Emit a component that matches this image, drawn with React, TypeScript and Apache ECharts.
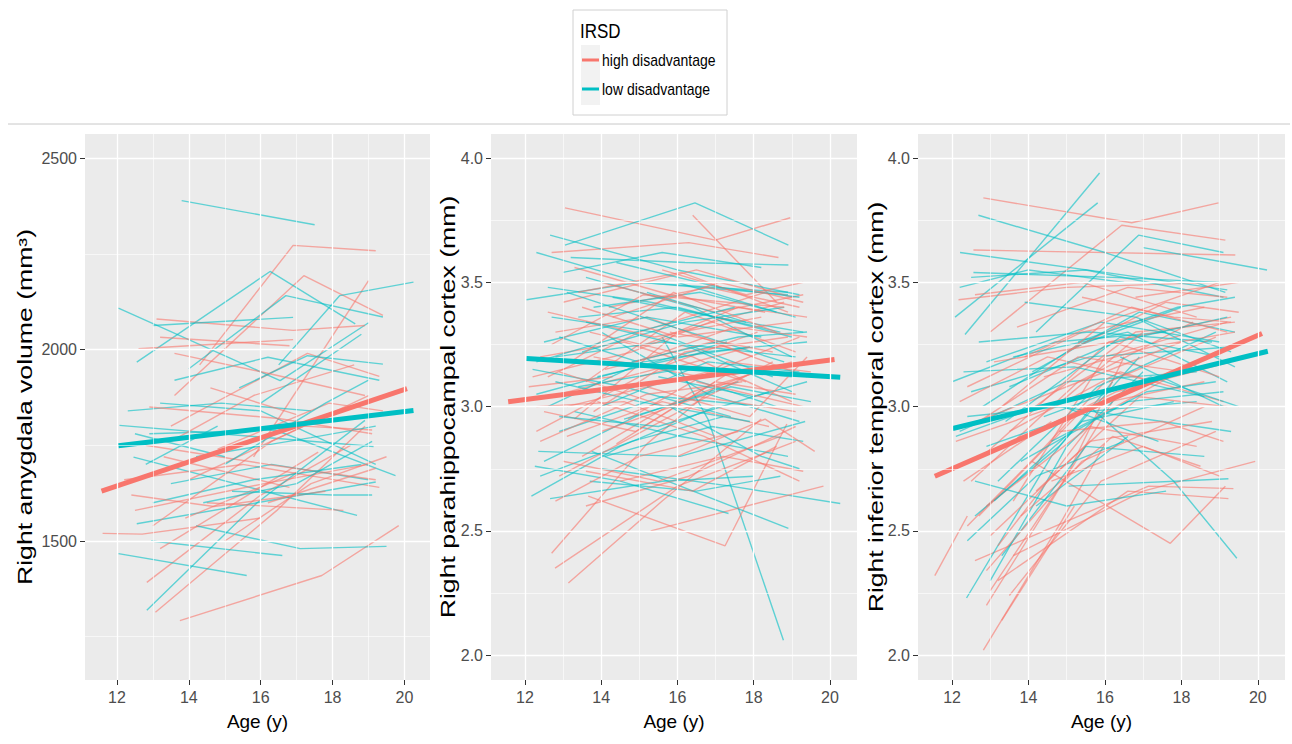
import React, { useEffect, useRef } from "react";
import * as echarts from "echarts";

// ---------- axis ticks ----------
const ageTicks = [12, 14, 16, 18, 20];
const ageMinor = [13, 15, 17, 19];
const amygTicks = [1500, 2000, 2500];
const amygMinor = [1250, 1750, 2250];
const cortexTicks = [2.0, 2.5, 3.0, 3.5, 4.0];
const cortexMinor = [2.25, 2.75, 3.25, 3.75];

const legendTitle = "IRSD";
const groupNames = ["high disadvantage", "low disadvantage"];
const panelTitles = [
  "Right amygdala volume (mm\u00B3)",
  "Right parahippocampal cortex (mm)",
  "Right inferior temporal cortex (mm)",
];
const xTitle = "Age (y)";

// ---------- subjects: [age1, value1, age2, value2, (age3, value3)] ----------
const amygHigh: number[][] = [
  [14.3, 1960, 16.9, 2272, 19.2, 2258],
  [13.6, 1880, 17.2, 2193, 19.4, 2089],
  [15.8, 1720, 19.0, 2180],
  [13.1, 2080, 16.9, 2050, 18.9, 2063],
  [13.2, 2032, 16.8, 2010],
  [12.6, 2002, 16.9, 2026],
  [13.5, 1800, 17.3, 1990, 19.3, 1930],
  [11.6, 1520, 12.7, 1518, 16.0, 1560],
  [13.75, 1292, 17.7, 1410, 19.84, 1540],
  [13.07, 1314, 16.45, 1580, 18.9, 1800],
  [12.83, 1392, 16.0, 1620, 18.5, 1750],
  [13.2, 1480, 17.6, 1732],
  [12.2, 1660, 15.5, 1700, 19.3, 1640],
  [12.5, 1580, 16.1, 1650, 19.0, 1700],
  [13.3, 1720, 16.8, 1640],
  [14.0, 1660, 17.2, 1800, 19.1, 1790],
  [12.8, 1750, 16.2, 1700, 19.2, 1660],
  [13.9, 1560, 17.0, 1680],
  [14.5, 1600, 18.3, 1580],
  [12.4, 1620, 14.7, 1590, 17.8, 1630],
  [15.0, 1500, 17.4, 1650, 19.5, 1720],
  [13.5, 1760, 15.8, 1880, 18.6, 1960],
  [14.8, 1740, 17.9, 1860, 19.4, 1840],
  [12.9, 1850, 16.5, 1820, 19.1, 1780],
  [16.2, 1600, 19.2, 1690],
  [13.0, 1540, 16.3, 1760, 19.0, 1880],
  [14.6, 1900, 17.0, 1830],
  [13.6, 1990, 16.1, 1940, 18.9, 1880],
];
const amygLow: number[][] = [
  [13.8, 2389, 17.5, 2326],
  [12.55, 1967, 16.26, 2204, 18.63, 2067],
  [12.04, 2108, 16.54, 1919, 19.0, 2070],
  [14.0, 1950, 16.7, 2141, 19.4, 2085],
  [16.5, 1960, 18.2, 2141, 20.25, 2176],
  [13.0, 2063, 16.9, 2084],
  [15.4, 1900, 17.3, 1984, 19.4, 1962],
  [12.07, 1802, 19.14, 1747],
  [12.46, 1719, 18.68, 1567],
  [12.95, 1500, 16.6, 1462],
  [14.2, 1540, 17.1, 1480, 19.5, 1486],
  [12.04, 1467, 15.61, 1410],
  [12.83, 1319, 15.9, 1600, 18.9, 1815],
  [12.55, 1545, 19.2, 1654],
  [13.2, 1860, 16.0, 1840, 19.2, 1700],
  [13.5, 1650, 16.3, 1700, 19.0, 1660],
  [12.9, 1780, 16.4, 1790, 19.75, 1671],
  [14.2, 1720, 17.4, 1770, 19.2, 1800],
  [13.0, 1600, 15.8, 1660, 18.8, 1700],
  [15.2, 1630, 18.0, 1620, 19.1, 1620],
  [12.3, 1840, 14.9, 1860, 17.4, 1840],
  [16.0, 1860, 18.8, 2040],
  [13.6, 1920, 16.2, 1980, 19.3, 1920],
  [12.5, 1780, 15.0, 1720],
  [14.4, 1600, 17.0, 1650, 19.1, 1760],
  [15.0, 1700, 17.8, 1860, 19.0, 1920],
  [12.8, 1700, 14.8, 1800],
];
const paraHigh: number[][] = [
  [13.05, 3.8, 16.99, 3.67, 18.96, 3.76],
  [16.4, 3.77, 18.6, 3.42],
  [13.66, 2.64, 17.25, 2.44, 18.87, 2.93],
  [12.7, 2.41, 15.2, 2.85, 17.0, 3.08],
  [12.79, 2.35, 16.0, 2.68, 19.1, 2.86],
  [13.14, 2.29, 15.6, 2.62, 18.2, 2.95],
  [15.3, 2.5, 19.83, 2.68],
  [12.7, 3.62, 16.3, 3.66, 18.65, 3.6],
  [12.6, 3.12, 15.0, 3.3, 18.3, 3.46],
  [13.0, 3.42, 16.5, 3.55, 19.0, 3.44],
  [13.6, 3.1, 16.2, 3.38, 19.1, 3.22],
  [12.4, 3.2, 14.6, 3.26, 17.8, 3.1],
  [13.3, 2.95, 16.0, 3.3, 18.8, 3.42],
  [14.2, 3.4, 16.8, 3.48, 19.2, 3.4],
  [12.9, 3.05, 15.4, 3.15, 18.1, 3.3],
  [13.5, 2.8, 16.4, 3.06, 19.0, 3.18],
  [12.2, 3.12, 14.8, 3.22, 17.2, 3.36],
  [14.0, 3.5, 17.0, 3.38, 19.3, 3.45],
  [13.1, 2.88, 15.6, 3.02, 18.4, 2.92],
  [12.8, 3.3, 15.2, 3.36, 18.0, 3.2],
  [15.0, 3.24, 17.6, 3.4, 19.4, 3.36],
  [13.8, 3.2, 16.6, 3.12, 19.2, 3.28],
  [12.5, 2.98, 14.9, 2.9, 17.5, 3.15],
  [13.4, 3.46, 16.1, 3.54, 18.9, 3.38],
  [14.4, 2.85, 17.0, 3.1, 19.1, 3.05],
  [12.3, 2.9, 15.0, 3.12, 17.9, 3.24],
  [13.9, 3.02, 16.7, 2.88, 19.2, 2.7],
  [15.6, 3.55, 17.8, 3.45, 19.3, 3.5],
  [12.9, 2.72, 15.8, 2.96, 18.5, 3.18],
  [13.6, 2.6, 16.3, 2.72, 19.1, 2.92],
  [14.1, 3.15, 16.9, 3.26, 19.4, 3.12],
  [12.6, 3.38, 15.4, 3.28, 18.2, 3.36],
  [13.2, 3.18, 15.9, 3.46, 18.6, 3.3],
  [14.7, 2.95, 17.3, 3.18, 19.5, 3.14],
  [12.1, 3.08, 14.3, 3.12],
  [13.0, 2.78, 15.5, 2.7, 18.7, 2.88],
  [16.0, 2.8, 18.3, 2.95, 19.6, 2.82],
  [13.7, 3.3, 16.4, 3.2, 19.0, 3.02],
  [12.4, 2.86, 15.2, 3.05, 17.7, 3.1],
  [14.3, 3.36, 17.1, 3.5, 19.3, 3.42],
  [13.3, 3.56, 15.8, 3.45, 18.3, 3.38],
  [12.7, 3.25, 15.1, 3.45, 18.8, 3.4],
  [15.2, 3.08, 17.9, 2.96, 19.4, 3.2],
  [13.8, 2.98, 16.2, 3.22, 18.9, 3.28],
  [12.8, 2.62, 15.0, 2.8, 17.6, 2.9],
  [14.5, 2.7, 17.2, 2.8, 19.3, 2.74],
  [13.1, 3.0, 16.8, 3.14],
  [15.8, 3.3, 18.5, 3.22],
  [12.9, 3.14, 15.7, 3.0, 18.4, 3.16],
  [13.5, 3.4, 16.0, 3.28, 19.0, 3.34],
  [14.9, 3.18, 17.5, 3.32, 19.4, 3.28],
  [12.3, 3.0, 14.6, 3.02, 17.0, 2.88],
  [14.0, 2.9, 16.6, 3.04, 19.1, 2.98],
  [16.5, 3.1, 19.3, 3.0],
  [13.6, 2.74, 16.4, 2.66, 18.6, 2.84],
];
const paraLow: number[][] = [
  [13.05, 3.65, 16.46, 3.82, 18.91, 3.65],
  [15.6, 3.28, 16.8, 2.95, 18.78, 2.06],
  [13.75, 2.82, 18.91, 2.51],
  [14.0, 2.75, 17.4, 2.68, 20.27, 2.61],
  [12.17, 2.64, 14.5, 2.84, 17.0, 3.0],
  [12.04, 3.43, 15.0, 3.5, 18.9, 3.46],
  [12.3, 3.62, 15.0, 3.5, 18.9, 3.45],
  [12.66, 3.69, 16.0, 3.55, 19.2, 3.45],
  [13.2, 3.6, 16.2, 3.58, 18.91, 3.57],
  [12.6, 3.48, 15.3, 3.42, 18.7, 3.3],
  [13.4, 3.36, 16.0, 3.4, 19.0, 3.28],
  [12.8, 3.2, 15.6, 3.26, 19.1, 3.2],
  [14.0, 3.3, 16.8, 3.05, 19.2, 2.94],
  [12.3, 3.05, 14.7, 3.15, 17.3, 3.26],
  [13.6, 3.52, 16.4, 3.4, 19.0, 3.2],
  [12.5, 2.78, 14.9, 2.96, 17.6, 3.1],
  [13.9, 3.12, 16.7, 3.22, 19.4, 3.26],
  [12.9, 2.9, 15.6, 3.04, 18.3, 3.0],
  [14.3, 3.44, 17.0, 3.36, 19.3, 3.3],
  [12.2, 3.15, 14.6, 3.08, 17.4, 2.96],
  [13.3, 2.98, 16.1, 2.88, 18.9, 2.8],
  [15.2, 3.46, 17.8, 3.34],
  [12.7, 3.36, 15.4, 3.3, 18.5, 3.12],
  [13.5, 3.22, 16.2, 3.34, 18.8, 3.4],
  [14.6, 2.95, 17.4, 3.08, 19.5, 3.02],
  [12.4, 2.72, 14.8, 2.86, 17.2, 2.96],
  [13.8, 3.4, 16.6, 3.46, 19.1, 3.36],
  [12.9, 3.28, 15.8, 3.14, 18.6, 3.0],
  [14.1, 2.8, 16.9, 2.92, 19.3, 2.86],
  [12.6, 3.0, 15.1, 3.18, 17.9, 3.24],
  [12.35, 2.82, 16.07, 2.8, 19.35, 2.94],
  [12.26, 2.76, 14.5, 2.7, 17.34, 2.57],
  [12.66, 2.63, 15.6, 2.7, 18.0, 2.72],
  [15.8, 3.0, 18.2, 2.8, 19.2, 2.75],
  [13.4, 3.08, 16.4, 3.16, 19.0, 3.12],
  [14.8, 3.18, 17.6, 3.28, 19.4, 3.3],
  [12.8, 3.1, 15.0, 3.02, 17.9, 2.94],
  [13.7, 2.7, 16.5, 2.66, 18.7, 2.72],
  [14.4, 3.58, 17.1, 3.48, 19.2, 3.44],
  [12.5, 3.26, 15.2, 3.36, 18.2, 3.28],
  [13.1, 3.46, 15.9, 3.32, 18.8, 3.18],
  [15.5, 3.12, 18.0, 3.04, 19.4, 3.1],
  [12.9, 2.96, 15.5, 2.92, 18.4, 3.06],
  [14.0, 3.0, 16.8, 3.18, 19.2, 3.14],
  [13.6, 3.34, 16.3, 3.24, 19.0, 3.06],
  [12.3, 3.18, 14.9, 3.3, 17.5, 3.4],
  [16.0, 3.5, 18.6, 3.38],
  [13.0, 3.54, 15.6, 3.62, 18.2, 3.56],
];
const tempHigh: number[][] = [
  [12.82, 3.84, 16.7, 3.74, 18.97, 3.82],
  [13.0, 3.3, 16.44, 3.73, 19.15, 3.67],
  [12.56, 3.63, 19.41, 3.61],
  [12.17, 3.43, 15.0, 3.48, 18.9, 3.5],
  [11.55, 2.32, 12.4, 2.56],
  [12.82, 2.02, 14.87, 2.54, 16.0, 2.85],
  [14.09, 2.78, 17.71, 2.45, 19.15, 2.68],
  [13.6, 2.4, 17.0, 2.66, 19.93, 2.78],
  [13.2, 2.3, 16.6, 2.66, 19.23, 2.63],
  [12.6, 2.38, 17.14, 2.68, 19.36, 2.67],
  [12.4, 2.52, 14.2, 2.8, 16.0, 3.1],
  [12.9, 2.2, 14.6, 2.62, 16.2, 3.02],
  [13.0, 2.26, 15.0, 2.72, 16.5, 3.2],
  [13.3, 2.14, 15.2, 2.6],
  [12.7, 2.56, 15.5, 3.0, 18.6, 3.1],
  [13.2, 2.44, 15.8, 2.96, 18.9, 3.22],
  [12.5, 2.7, 15.3, 3.1, 18.3, 3.34],
  [13.6, 2.62, 16.0, 3.2, 19.2, 3.34],
  [12.3, 2.92, 15.0, 3.08, 18.0, 3.26],
  [12.8, 2.8, 16.1, 3.26, 19.3, 3.36],
  [13.5, 2.9, 16.4, 3.14, 19.1, 3.02],
  [14.0, 2.98, 16.8, 3.3, 19.4, 3.34],
  [12.4, 3.08, 15.4, 3.3, 18.6, 3.4],
  [13.1, 3.18, 16.2, 3.26, 19.0, 3.12],
  [12.2, 3.02, 14.5, 3.2, 17.3, 3.1],
  [14.2, 2.66, 16.9, 3.04, 19.2, 3.0],
  [12.9, 2.6, 15.6, 2.92, 18.4, 2.84],
  [13.4, 2.84, 16.3, 3.06, 19.3, 3.18],
  [15.0, 3.22, 17.6, 3.42, 19.5, 3.38],
  [13.7, 3.32, 16.6, 3.48, 19.2, 3.44],
  [12.6, 3.45, 15.4, 3.5, 18.4, 3.36],
  [14.4, 3.12, 17.2, 3.24, 19.4, 3.3],
  [12.3, 2.7, 14.6, 2.94],
  [13.0, 2.48, 15.6, 2.86, 18.8, 2.94],
  [14.8, 2.9, 17.5, 2.94, 19.1, 2.86],
  [13.8, 2.56, 16.2, 2.88, 18.5, 2.76],
  [16.1, 3.1, 18.9, 3.28],
  [12.1, 2.86, 14.7, 3.0, 17.0, 3.3],
  [13.3, 3.0, 16.0, 3.34, 19.0, 3.5],
  [15.4, 3.44, 17.8, 3.36, 19.3, 3.34],
  [12.7, 2.94, 15.3, 3.2, 18.1, 3.14],
  [13.9, 3.2, 16.7, 3.4, 19.2, 3.3],
  [14.6, 2.7, 17.0, 2.84, 19.0, 2.72],
  [12.9, 2.34, 15.4, 2.78, 18.6, 3.0],
  [13.5, 2.24, 15.9, 2.7, 18.9, 2.9],
  [16.8, 3.44, 19.5, 3.5],
];
const tempLow: number[][] = [
  [12.34, 3.29, 15.86, 3.94],
  [12.08, 3.36, 15.81, 3.82],
  [12.69, 3.77, 16.0, 3.62, 19.15, 3.46],
  [14.2, 3.3, 16.88, 3.69, 19.1, 3.62],
  [17.0, 3.64, 20.24, 3.55],
  [12.21, 3.62, 16.0, 3.54, 19.2, 3.47],
  [12.56, 3.54, 16.2, 3.52, 19.0, 3.5],
  [12.5, 3.52, 15.5, 3.55, 19.1, 3.44],
  [15.6, 3.0, 17.8, 2.7, 19.45, 2.39],
  [12.38, 2.23, 14.6, 2.8, 16.2, 3.1],
  [15.05, 2.68, 19.23, 2.71],
  [12.4, 2.46, 14.2, 2.72, 16.5, 2.86],
  [12.6, 2.56, 14.8, 2.84, 16.9, 3.2],
  [13.0, 2.3, 15.0, 2.84, 17.0, 3.14],
  [12.2, 2.9, 15.0, 3.1, 18.4, 3.14],
  [12.0, 3.1, 14.7, 3.26, 17.6, 3.3],
  [13.2, 2.7, 15.8, 3.08, 18.9, 3.3],
  [12.5, 3.06, 15.6, 3.2, 19.3, 3.24],
  [12.8, 3.0, 15.2, 3.24, 18.0, 3.4],
  [13.4, 2.94, 16.4, 3.28, 19.0, 3.2],
  [14.1, 3.14, 16.9, 3.38, 19.4, 3.3],
  [12.3, 3.14, 15.2, 3.16, 18.6, 3.04],
  [13.6, 3.2, 16.6, 3.3, 19.2, 3.1],
  [12.9, 2.84, 15.5, 2.98, 18.4, 3.02],
  [14.4, 2.96, 17.2, 3.12, 19.5, 3.0],
  [12.7, 3.26, 15.6, 3.3, 18.8, 3.26],
  [13.1, 2.62, 15.4, 2.94, 17.8, 3.02],
  [14.8, 3.0, 17.5, 2.94, 19.3, 2.9],
  [12.4, 2.96, 14.9, 3.0, 17.4, 2.86],
  [13.8, 2.78, 16.6, 3.02, 19.1, 3.06],
  [12.1, 2.88, 13.9, 2.98],
  [15.3, 3.26, 17.9, 3.4, 19.4, 3.44],
  [13.5, 3.08, 16.3, 3.26, 19.2, 3.36],
  [14.6, 2.86, 17.1, 3.06, 18.9, 3.1],
  [12.6, 2.7, 15.0, 2.6, 17.6, 2.66],
  [13.3, 2.4, 15.5, 2.84, 18.6, 2.8],
  [16.4, 3.2, 19.1, 3.0],
  [12.9, 3.18, 15.9, 3.34, 19.0, 3.26],
  [13.9, 3.42, 16.8, 3.36, 19.3, 3.22],
  [14.2, 2.6, 16.6, 2.88],
  [12.2, 3.48, 14.0, 3.55, 16.5, 3.5],
  [16.9, 3.35, 19.4, 3.16],
];

// ---------- group fit lines ----------
const amygFitHigh = [11.57, 1630, 20.07, 1898];
const amygFitLow = [12.04, 1749, 20.25, 1841];
const paraFitHigh = [11.56, 3.02, 20.12, 3.19];
const paraFitLow = [12.04, 3.194, 20.27, 3.118];
const tempFitHigh = [11.55, 2.72, 20.11, 3.294];
const tempFitLow = [12.02, 2.912, 20.26, 3.223];

const RED = "#F8766D";
const CYAN = "#00BFC4";
const SANS = "'Liberation Sans', Arial, Helvetica, sans-serif";

const toPairs = (r: number[]) => {
  const out: number[][] = [];
  for (let i = 0; i + 1 < r.length; i += 2) out.push([r[i], r[i + 1]]);
  return out;
};

const GRIDS = [
  { left: 85, top: 134, width: 345, height: 546 },
  { left: 491, top: 134, width: 366, height: 546 },
  { left: 918, top: 134, width: 367, height: 546 },
];

const PANELS = [
  { high: amygHigh, low: amygLow, fitH: amygFitHigh, fitL: amygFitLow, min: 1137, max: 2563, ticks: amygTicks, minor: amygMinor, fmt: (v: number) => String(v) },
  { high: paraHigh, low: paraLow, fitH: paraFitHigh, fitL: paraFitLow, min: 1.9, max: 4.097, ticks: cortexTicks, minor: cortexMinor, fmt: (v: number) => v.toFixed(1) },
  { high: tempHigh, low: tempLow, fitH: tempFitHigh, fitL: tempFitLow, min: 1.9, max: 4.097, ticks: cortexTicks, minor: cortexMinor, fmt: (v: number) => v.toFixed(1) },
];

function buildOption() {
  const grid: any[] = [];
  const xAxis: any[] = [];
  const yAxis: any[] = [];
  const series: any[] = [];
  PANELS.forEach((p, i) => {
    grid.push({ ...GRIDS[i], show: true, backgroundColor: "#EBEBEB", borderWidth: 0 });
    xAxis.push({
      type: "value", gridIndex: i, min: 11.11, max: 20.71,
      axisLine: { show: false },
      axisTick: { show: true, customValues: ageTicks, length: 5, lineStyle: { color: "#333", width: 1 } },
      axisLabel: { customValues: ageTicks, color: "#4D4D4D", fontSize: 16, fontFamily: SANS, margin: 9 },
      splitLine: { show: false },
      name: xTitle, nameLocation: "middle", nameGap: 32,
      nameTextStyle: { color: "#000", fontSize: 19, fontFamily: SANS },
    });
    yAxis.push({
      type: "value", gridIndex: i, min: p.min, max: p.max,
      axisLine: { show: false },
      axisTick: { show: true, customValues: p.ticks, length: 5, lineStyle: { color: "#333", width: 1 } },
      axisLabel: { customValues: p.ticks, formatter: p.fmt, color: "#4D4D4D", fontSize: 16, fontFamily: SANS, margin: 8 },
      splitLine: { show: false },
    });
    const major = { color: "#FFFFFF", width: 1.3, type: "solid", opacity: 1 };
    const minorS = { color: "#FFFFFF", width: 0.6, type: "solid", opacity: 1 };
    series.push({
      type: "line", xAxisIndex: i, yAxisIndex: i, data: [], silent: true, z: 1,
      markLine: {
        silent: true, symbol: ["none", "none"], label: { show: false }, animation: false,
        emphasis: { disabled: true },
        data: [
          ...ageMinor.map((v) => ({ xAxis: v, lineStyle: minorS })),
          ...p.minor.map((v) => ({ yAxis: v, lineStyle: minorS })),
          ...ageTicks.map((v) => ({ xAxis: v, lineStyle: major })),
          ...p.ticks.map((v) => ({ yAxis: v, lineStyle: major })),
        ],
      },
    });
    const n = Math.max(p.high.length, p.low.length);
    const add = (r: number[] | undefined, color: string) => {
      if (!r) return;
      series.push({
        type: "line", xAxisIndex: i, yAxisIndex: i, data: toPairs(r), symbol: "none", showSymbol: false,
        silent: true, z: 2, lineStyle: { color, width: 1.4, opacity: 0.6 },
      });
    };
    for (let k = 0; k < n; k++) {
      add(p.high[k], RED);
      add(p.low[k], CYAN);
    }
    series.push({
      type: "line", xAxisIndex: i, yAxisIndex: i, data: toPairs(p.fitH), symbol: "none", silent: true, z: 3,
      lineStyle: { color: RED, width: 5 },
    });
    series.push({
      type: "line", xAxisIndex: i, yAxisIndex: i, data: toPairs(p.fitL), symbol: "none", silent: true, z: 3,
      lineStyle: { color: CYAN, width: 5 },
    });
  });

  const titleX = [25, 448, 876];
  const graphic: any[] = [
    { type: "line", shape: { x1: 8, y1: 124, x2: 1290, y2: 124 }, style: { stroke: "#C8C8C8", lineWidth: 1 } },
    { type: "rect", shape: { x: 573, y: 10, width: 154, height: 105 }, style: { fill: "#fff", stroke: "#D0D0D0", lineWidth: 1 } },
    { type: "text", x: 580, y: 31, scaleY: 1.15, style: { text: legendTitle, fontSize: 17, fontFamily: SANS, fill: "#000", verticalAlign: "middle" } },
    { type: "rect", shape: { x: 581, y: 45, width: 19, height: 60 }, style: { fill: "#F2F2F2" } },
    { type: "line", shape: { x1: 582, y1: 60, x2: 599, y2: 60 }, style: { stroke: RED, lineWidth: 3 } },
    { type: "line", shape: { x1: 582, y1: 89, x2: 599, y2: 89 }, style: { stroke: CYAN, lineWidth: 3 } },
    { type: "text", x: 602, y: 60, scaleY: 1.2, style: { text: groupNames[0], fontSize: 14, fontFamily: SANS, fill: "#000", verticalAlign: "middle" } },
    { type: "text", x: 602, y: 89, scaleY: 1.2, style: { text: groupNames[1], fontSize: 14, fontFamily: SANS, fill: "#000", verticalAlign: "middle" } },
  ];
  panelTitles.forEach((t, i) => {
    graphic.push({
      type: "text", x: titleX[i], y: 407, rotation: Math.PI / 2, scaleX: 1.33, scaleY: 1,
      style: { text: t, fontSize: 20, fontFamily: SANS, fill: "#000", align: "center", verticalAlign: "middle" },
    });
  });

  return { animation: false, backgroundColor: "#fff", grid, xAxis, yAxis, series, graphic };
}

export default function App() {
  const ref = useRef<HTMLDivElement>(null);
  useEffect(() => {
    if (!ref.current) return;
    const chart = echarts.init(ref.current, undefined, { renderer: "svg" });
    chart.setOption(buildOption() as any);
    return () => chart.dispose();
  }, []);
  return (
    <div
      ref={ref}
      style={{ position: "fixed", left: 0, top: 0, width: 1292, height: 744, background: "#fff" }}
    />
  );
}
